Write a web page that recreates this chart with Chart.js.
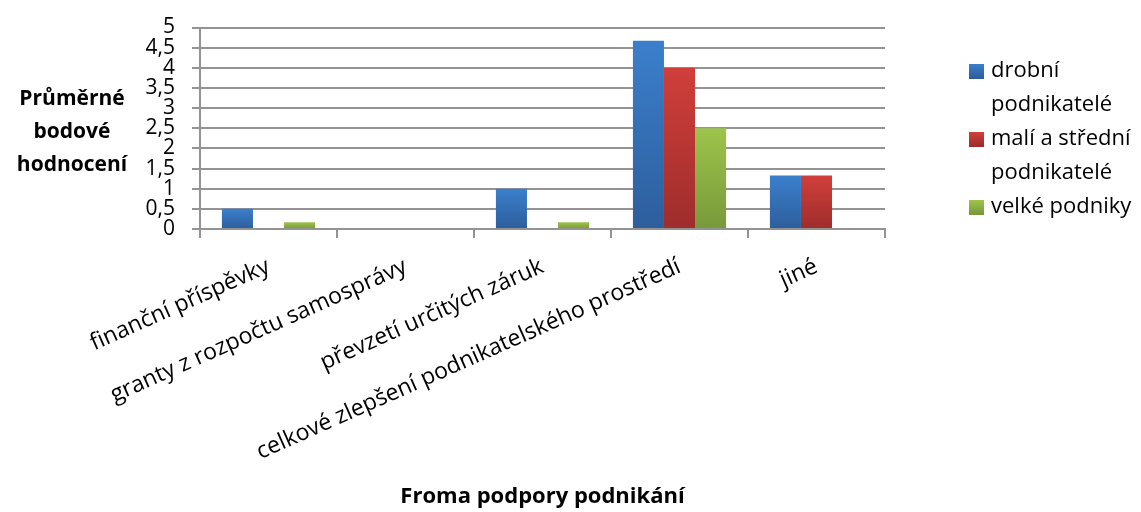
<!DOCTYPE html>
<html>
<head>
<meta charset="utf-8">
<script src="https://cdn.jsdelivr.net/npm/chart.js@4.4.0/dist/chart.umd.min.js"></script>
<style>
  html, body { margin: 0; padding: 0; background: #fff; }
  canvas { display: block; }
</style>
</head>
<body>
<canvas id="chart" width="1141" height="512"></canvas>
<script>
// data
const categories = [
  "finanční příspěvky",
  "granty z rozpočtu samosprávy",
  "převzetí určitých záruk",
  "celkové zlepšení podnikatelského prostředí",
  "jiné"
];
const drobni = [0.5, 0, 1, 4.67, 1.33];
const maliStredni = [0, 0, 0, 4, 1.33];
const velke = [0.17, 0, 0.17, 2.5, 0];
const seriesNames = ["drobní podnikatelé", "malí a střední podnikatelé", "velké podniky"];
const yTickLabels = ["0", "0,5", "1", "1,5", "2", "2,5", "3", "3,5", "4", "4,5", "5"];
const yTitleLines = ["Průměrné", "bodové", "hodnocení"];
const xTitle = "Froma podpory podnikání";

const FONT = "'Open Sans', 'DejaVu Sans', sans-serif";
const GRID = "#939393";
const colors = [
  ["#3b7fcc", "#2d5e9c"],
  ["#d03f3b", "#9e2d2b"],
  ["#9dc44b", "#78993a"]
];

Chart.defaults.font.family = FONT;
Chart.defaults.color = "#000";

// vertical gradient per bar, like the Excel fill
function barFill(top, bottom) {
  return (ctx) => {
    const chart = ctx.chart;
    const y = chart.scales.y;
    if (!chart.chartArea || !y || ctx.type !== "data") return top;
    const yTop = y.getPixelForValue(ctx.raw);
    const yBase = y.getPixelForValue(0);
    if (yBase - yTop < 1) return top;
    const g = chart.ctx.createLinearGradient(0, yTop, 0, yBase);
    g.addColorStop(0, top);
    g.addColorStop(1, bottom);
    return g;
  };
}

// horizontal y title on the left
const yTitlePlugin = {
  id: "yTitle",
  afterDraw(chart) {
    const { ctx, chartArea } = chart;
    const mid = (chartArea.top + chartArea.bottom) / 2 + 4;
    const lh = 33;
    ctx.save();
    ctx.font = "bold 21px " + FONT;
    ctx.fillStyle = "#000";
    ctx.textAlign = "center";
    ctx.textBaseline = "middle";
    yTitleLines.forEach((t, i) => {
      ctx.fillText(t, 72, mid + (i - 1) * lh);
    });
    ctx.restore();
  }
};

// legend on the right with wrapped names
const legendPlugin = {
  id: "sideLegend",
  afterDraw(chart) {
    const { ctx } = chart;
    const boxX = 969, textX = 991, maxW = 152, lh = 34;
    let y = 71;
    ctx.save();
    ctx.font = "22px " + FONT;
    ctx.textBaseline = "middle";
    ctx.textAlign = "left";
    seriesNames.forEach((name, i) => {
      const g = ctx.createLinearGradient(0, y - 7, 0, y + 7);
      g.addColorStop(0, colors[i][0]);
      g.addColorStop(1, colors[i][1]);
      ctx.fillStyle = g;
      ctx.fillRect(boxX, y - 7, 15, 15);
      // wrap words
      const words = name.split(" ");
      let lines = [], cur = "";
      words.forEach(w => {
        const test = cur ? cur + " " + w : w;
        if (ctx.measureText(test).width > maxW && cur) {
          lines.push(cur);
          cur = w;
        } else {
          cur = test;
        }
      });
      lines.push(cur);
      ctx.fillStyle = "#000";
      lines.forEach(l => {
        ctx.fillText(l, textX, y);
        y += lh;
      });
    });
    ctx.restore();
  }
};

const ctx = document.getElementById("chart");
new Chart(ctx, {
  type: "bar",
  data: {
    labels: categories,
    datasets: [drobni, maliStredni, velke].map((vals, i) => ({
      label: seriesNames[i],
      data: vals,
      backgroundColor: barFill(colors[i][0], colors[i][1]),
      borderWidth: 0,
      barPercentage: 1,
      categoryPercentage: 0.68
    }))
  },
  options: {
    responsive: false,
    animation: false,
    layout: { padding: { top: 24, right: 256, bottom: 0, left: 0 } },
    plugins: {
      legend: { display: false },
      tooltip: { enabled: false }
    },
    scales: {
      x: {
        afterFit(scale) { scale.height = 283; },
        grid: {
          offset: true,
          drawOnChartArea: false,
          drawTicks: true,
          tickLength: 9,
          color: GRID,
          lineWidth: 2
        },
        border: { color: GRID, width: 2 },
        ticks: {
          autoSkip: false,
          minRotation: 24,
          maxRotation: 24,
          padding: 15,
          font: { size: 23 }
        },
        title: {
          display: true,
          text: xTitle,
          font: { size: 22, weight: "bold" },
          padding: { top: 0, bottom: 2 }
        }
      },
      y: {
        min: 0,
        max: 5,
        afterFit(scale) { scale.width = 200; },
        grid: {
          color: GRID,
          lineWidth: 2,
          tickLength: 8
        },
        border: { color: GRID, width: 2 },
        ticks: {
          autoSkip: false,
          stepSize: 0.5,
          padding: 17,
          font: { size: 21, lineHeight: 1 },
          callback: (v, i) => yTickLabels[i]
        }
      }
    }
  },
  plugins: [yTitlePlugin, legendPlugin]
});
</script>
</body>
</html>
